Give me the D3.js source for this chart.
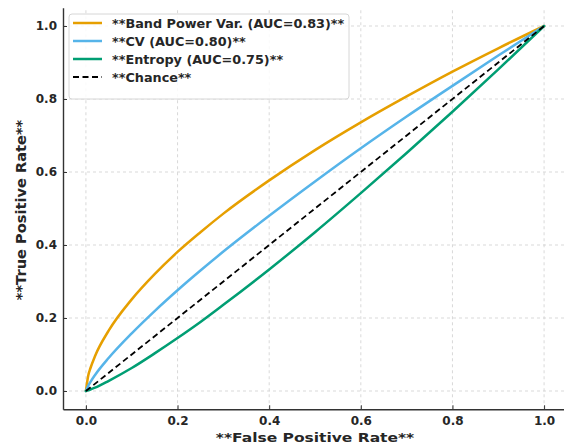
<!DOCTYPE html>
<html>
<head>
<meta charset="utf-8">
<script src="https://cdn.jsdelivr.net/npm/d3@7"></script>
<style>
  html, body { margin: 0; padding: 0; background: #fff; }
  svg { display: block; font-family: "DejaVu Sans", sans-serif; }
</style>
</head>
<body>
<svg id="chart" width="564" height="447"></svg>
<script>
// ROC curve samples (false positive rate -> true positive rate)
const fpr = [0, 0.005, 0.01, 0.02, 0.05, 0.1, 0.15, 0.2, 0.25, 0.3, 0.4, 0.5, 0.6, 0.7, 0.8, 0.9, 1.0];
const tprBandPower = [0, 0.042, 0.063, 0.096, 0.166, 0.251, 0.320, 0.381, 0.435, 0.486, 0.577, 0.660, 0.736, 0.807, 0.875, 0.939, 1.0];
const tprCV        = [0, 0.014, 0.025, 0.044, 0.091, 0.158, 0.219, 0.276, 0.330, 0.382, 0.480, 0.574, 0.665, 0.752, 0.836, 0.919, 1.0];
const tprEntropy   = [0, 0.002, 0.004, 0.009, 0.028, 0.063, 0.103, 0.145, 0.189, 0.236, 0.333, 0.435, 0.542, 0.652, 0.765, 0.881, 1.0];
const chanceX = [0, 1];
const chanceY = [0, 1];

const seriesNames = [
  "**Band Power Var. (AUC=0.83)**",
  "**CV (AUC=0.80)**",
  "**Entropy (AUC=0.75)**",
  "**Chance**"
];
const seriesColors = ["#E69F00", "#56B4E9", "#009E73", "#000000"];
const tickValues = [0, 0.2, 0.4, 0.6, 0.8, 1.0];
const xTitle = "**False Positive Rate**";
const yTitle = "**True Positive Rate**";

const svg = d3.select("#chart");
const textColor = "#262626";

const x = d3.scaleLinear().domain([-0.05, 1.05]).range([63, 567]);
const y = d3.scaleLinear().domain([-0.05, 1.05]).range([409.25, 7.75]);

// grid
const grid = svg.append("g");
tickValues.forEach(v => {
  grid.append("line")
    .attr("x1", x(v)).attr("x2", x(v))
    .attr("y1", y(-0.05)).attr("y2", y(1.05))
    .attr("stroke", "#cfcfcf").attr("stroke-width", 0.8)
    .attr("stroke-dasharray", "3,3");
  grid.append("line")
    .attr("x1", x(-0.05)).attr("x2", x(1.05))
    .attr("y1", y(v)).attr("y2", y(v))
    .attr("stroke", "#cfcfcf").attr("stroke-width", 0.8)
    .attr("stroke-dasharray", "3,3");
});

// axes with inward ticks
const fmt = d3.format(".1f");
const xAxis = svg.append("g")
  .attr("transform", `translate(0,${y(-0.05)})`)
  .call(d3.axisBottom(x).tickValues(tickValues).tickFormat(fmt).tickSizeInner(-4).tickSizeOuter(0).tickPadding(7));
const yAxis = svg.append("g")
  .attr("transform", `translate(${x(-0.05)},0)`)
  .call(d3.axisLeft(y).tickValues(tickValues).tickFormat(fmt).tickSizeInner(-4).tickSizeOuter(0).tickPadding(6));

[xAxis, yAxis].forEach(a => {
  a.select(".domain").attr("stroke", "#333").attr("stroke-width", 1.4);
  a.selectAll(".tick line").attr("stroke", "#333").attr("stroke-width", 1);
  a.selectAll(".tick text")
    .attr("font-family", "DejaVu Sans").attr("font-weight", "bold")
    .attr("font-size", 12).attr("fill", textColor);
});
xAxis.selectAll(".tick text").attr("dy", "0.71em");

// curves
const lineGen = d3.line().x(d => x(d[0])).y(d => y(d[1])).curve(d3.curveMonotoneX);
const curves = [
  d3.zip(fpr, tprBandPower),
  d3.zip(fpr, tprCV),
  d3.zip(fpr, tprEntropy),
  d3.zip(chanceX, chanceY)
];
const plot = svg.append("g");
curves.forEach((pts, i) => {
  plot.append("path")
    .datum(pts)
    .attr("d", lineGen)
    .attr("fill", "none")
    .attr("stroke", seriesColors[i])
    .attr("stroke-width", i === 3 ? 1.8 : 2.5)
    .attr("stroke-dasharray", i === 3 ? "6,3.5" : null)
    .attr("stroke-linecap", i === 3 ? "butt" : "round");
});

// axis titles (x title slightly compressed vertically to sit under the tick labels)
svg.append("text")
  .attr("transform", `translate(${(x(-0.05) + x(1.05)) / 2},442) scale(1,0.82)`)
  .attr("text-anchor", "middle")
  .attr("font-weight", "bold").attr("font-size", 15.5).attr("fill", textColor)
  .text(xTitle);
svg.append("text")
  .attr("transform", `translate(26,210) rotate(-90)`)
  .attr("text-anchor", "middle")
  .attr("font-weight", "bold").attr("font-size", 14.6).attr("fill", textColor)
  .text(yTitle);

// legend
const legend = svg.append("g");
legend.append("rect")
  .attr("x", 69).attr("y", 14).attr("width", 280).attr("height", 85)
  .attr("rx", 3).attr("ry", 3)
  .attr("fill", "#fff").attr("fill-opacity", 0.85)
  .attr("stroke", "#d6d6d6").attr("stroke-width", 1);
seriesNames.forEach((name, i) => {
  const cy = 23 + i * 18;
  legend.append("line")
    .attr("x1", 73).attr("x2", 102).attr("y1", cy).attr("y2", cy)
    .attr("stroke", seriesColors[i])
    .attr("stroke-width", i === 3 ? 1.8 : 2.5)
    .attr("stroke-dasharray", i === 3 ? "6,3.5" : null);
  legend.append("text")
    .attr("x", 112).attr("y", cy).attr("dy", "0.36em")
    .attr("font-weight", "bold").attr("font-size", 12.8).attr("fill", textColor)
    .text(name);
});
</script>
</body>
</html>
